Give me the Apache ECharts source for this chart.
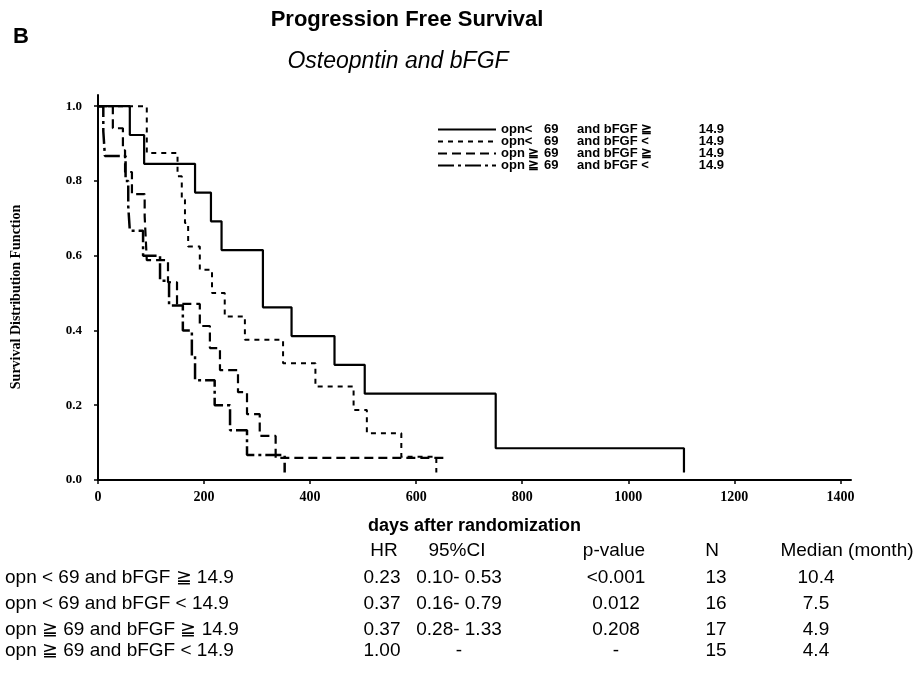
<!DOCTYPE html>
<html>
<head>
<meta charset="utf-8">
<script src="https://cdn.jsdelivr.net/npm/echarts@6/dist/echarts.min.js"></script>
<style>
  html, body { margin: 0; padding: 0; background: #fff; }
  #chart { width: 920px; height: 675px; }
</style>
</head>
<body>
<div id="chart"></div>
<script>
// Kaplan-Meier step points: [day, survival after the event on that day]
const seriesNames = [
  'opn<69 bFGF>=14.9',
  'opn<69 bFGF<14.9',
  'opn>=69 bFGF>=14.9',
  'opn>=69 bFGF<14.9'
];
const lowOpnHighFgf = [
  [0, 1], [60, 0.923], [87, 0.846], [183, 0.769], [213, 0.692], [233, 0.615],
  [311, 0.462], [365, 0.385], [446, 0.308], [503, 0.231], [750, 0.085], [1105, 0.02]
];
const lowOpnLowFgf = [
  [0, 1], [92, 0.875], [150, 0.8125], [158, 0.75], [164, 0.6875], [170, 0.625],
  [192, 0.5625], [215, 0.5], [239, 0.4375], [277, 0.375], [349, 0.3125],
  [410, 0.25], [482, 0.1875], [507, 0.125], [572, 0.0625], [638, 0.02]
];
const highOpnHighFgf = [
  [0, 1], [28, 0.941], [47, 0.882], [51, 0.824], [64, 0.765], [88, 0.706],
  [90, 0.647], [92, 0.588], [132, 0.529], [149, 0.471], [192, 0.412],
  [211, 0.353], [230, 0.294], [264, 0.235], [281, 0.176], [305, 0.118],
  [335, 0.059], [653, 0.059]
];
const highOpnLowFgf = [
  [0, 1], [10, 0.933], [13, 0.867], [52, 0.8], [57, 0.733], [60, 0.667],
  [85, 0.6], [117, 0.533], [134, 0.467], [160, 0.4], [177, 0.333],
  [183, 0.267], [220, 0.2], [249, 0.133], [281, 0.067], [352, 0.02]
];

const xTicks = [0, 200, 400, 600, 800, 1000, 1200, 1400];
const yTicks = [0, 0.2, 0.4, 0.6, 0.8, 1.0];

// legend wording, split in columns
const legendOpn = ['opn<', 'opn<', 'opn ≧', 'opn ≧'];
const legendCut = ['69', '69', '69', '69'];
const legendFgf = ['and bFGF ≧', 'and bFGF <', 'and bFGF ≧', 'and bFGF <'];
const legendFgfCut = ['14.9', '14.9', '14.9', '14.9'];

// summary table
const tableHeader = ['HR', '95%CI', 'p-value', 'N', 'Median (month)'];
const rowLabels = [
  'opn < 69 and bFGF ≧ 14.9',
  'opn < 69 and bFGF < 14.9',
  'opn ≧ 69 and bFGF ≧ 14.9',
  'opn ≧ 69 and bFGF < 14.9'
];
const hrValues = ['0.23', '0.37', '0.37', '1.00'];
const ciValues = ['0.10- 0.53', '0.16- 0.79', '0.28- 1.33', '-'];
const pValues = ['<0.001', '0.012', '0.208', '-'];
const nValues = ['13', '16', '17', '15'];
const medianValues = ['10.4', '7.5', '4.9', '4.4'];

const curves = [lowOpnHighFgf, lowOpnLowFgf, highOpnHighFgf, highOpnLowFgf];
const lineStyles = [
  { width: 2.2, type: 'solid' },
  { width: 2, type: [5, 5] },
  { width: 2.2, type: [9, 5] },
  { width: 2.5, type: [16, 4, 3, 4] }
];

const SANS = 'Liberation Sans, Arial, sans-serif';
const SERIF = 'Liberation Serif, Times New Roman, serif';

const chart = echarts.init(document.getElementById('chart'), null, { renderer: 'canvas' });

const graphic = [];
function txt(text, x, y, style, extra) {
  graphic.push(Object.assign({
    type: 'text', x: x, y: y, silent: true,
    style: Object.assign({
      text: text, fill: '#000', font: '19px ' + SANS,
      textAlign: 'center', textVerticalAlign: 'middle'
    }, style || {})
  }, extra || {}));
}
txt('B', 21, 37, { font: 'bold 22px ' + SANS });
txt('Progression Free Survival', 407, 20, { font: 'bold 22px ' + SANS });
txt('Osteopntin and bFGF', 398, 62, { font: 'italic 23px ' + SANS });
txt('Survival Distribution Function', 16, 297, { font: 'bold 14px ' + SERIF }, { rotation: Math.PI / 2 });

const headerX = [384, 457, 614, 712, 847];
const valueX = [382, 459, 616, 716, 816];
const headerY = 551;
const rowY = [578, 604, 630, 651];
tableHeader.forEach((h, i) => txt(h, headerX[i], headerY));
rowLabels.forEach((label, r) => {
  txt(label, 5, rowY[r], { textAlign: 'left' });
  txt(hrValues[r], valueX[0], rowY[r]);
  txt(ciValues[r], valueX[1], rowY[r]);
  txt(pValues[r], valueX[2], rowY[r]);
  txt(nValues[r], valueX[3], rowY[r]);
  txt(medianValues[r], valueX[4], rowY[r]);
});

const richCol = (w, align) => ({ width: w, align: align || 'left', fontWeight: 'bold', fontSize: 13, fontFamily: SANS, lineHeight: 12 });

const option = {
  animation: false,
  backgroundColor: '#fff',
  grid: { left: 98, right: 69, top: 95, bottom: 195, outerBoundsMode: 'none' },
  legend: {
    orient: 'vertical',
    left: 432, top: 118,
    itemWidth: 58, itemHeight: 10, itemGap: -1,
    data: seriesNames,
    itemStyle: { color: 'rgba(0,0,0,0)', borderColor: 'rgba(0,0,0,0)', borderWidth: 0, opacity: 0 },
    formatter: name => {
      const i = seriesNames.indexOf(name);
      return '{a|' + legendOpn[i] + '}{b|' + legendCut[i] + '}{c|' + legendFgf[i] + '}{d|' + legendFgfCut[i] + '}';
    },
    textStyle: {
      color: '#000', fontFamily: SANS, fontWeight: 'bold', fontSize: 13, lineHeight: 12,
      rich: {
        a: richCol(43),
        b: richCol(33),
        c: richCol(87),
        d: richCol(60, 'right')
      }
    }
  },
  xAxis: {
    type: 'value', min: 0, max: 1420,
    axisLine: { show: true, lineStyle: { color: '#000', width: 2 } },
    axisTick: { show: true, customValues: xTicks, length: 4, lineStyle: { color: '#000', width: 1.5 } },
    axisLabel: {
      customValues: xTicks, formatter: v => String(v),
      color: '#000', fontFamily: SERIF, fontWeight: 'bold', fontSize: 14, margin: 10
    },
    splitLine: { show: false },
    name: 'days after randomization',
    nameLocation: 'middle', nameGap: 37,
    nameTextStyle: { color: '#000', fontFamily: SANS, fontWeight: 'bold', fontSize: 18 }
  },
  yAxis: {
    type: 'value', min: 0, max: 1.03,
    axisLine: { show: true, lineStyle: { color: '#000', width: 2 } },
    axisTick: { show: true, customValues: yTicks, length: 4, lineStyle: { color: '#000', width: 1.5 } },
    axisLabel: {
      customValues: yTicks, formatter: v => v.toFixed(1),
      color: '#000', fontFamily: SERIF, fontWeight: 'bold', fontSize: 13, margin: 16
    },
    splitLine: { show: false }
  },
  series: curves.map((data, i) => ({
    name: seriesNames[i],
    type: 'line',
    step: 'end',
    symbol: 'none',
    data: data,
    lineStyle: Object.assign({ color: '#000' }, lineStyles[i]),
    itemStyle: { color: '#000' },
    z: 3
  })),
  graphic: graphic
};

chart.setOption(option);
</script>
</body>
</html>
